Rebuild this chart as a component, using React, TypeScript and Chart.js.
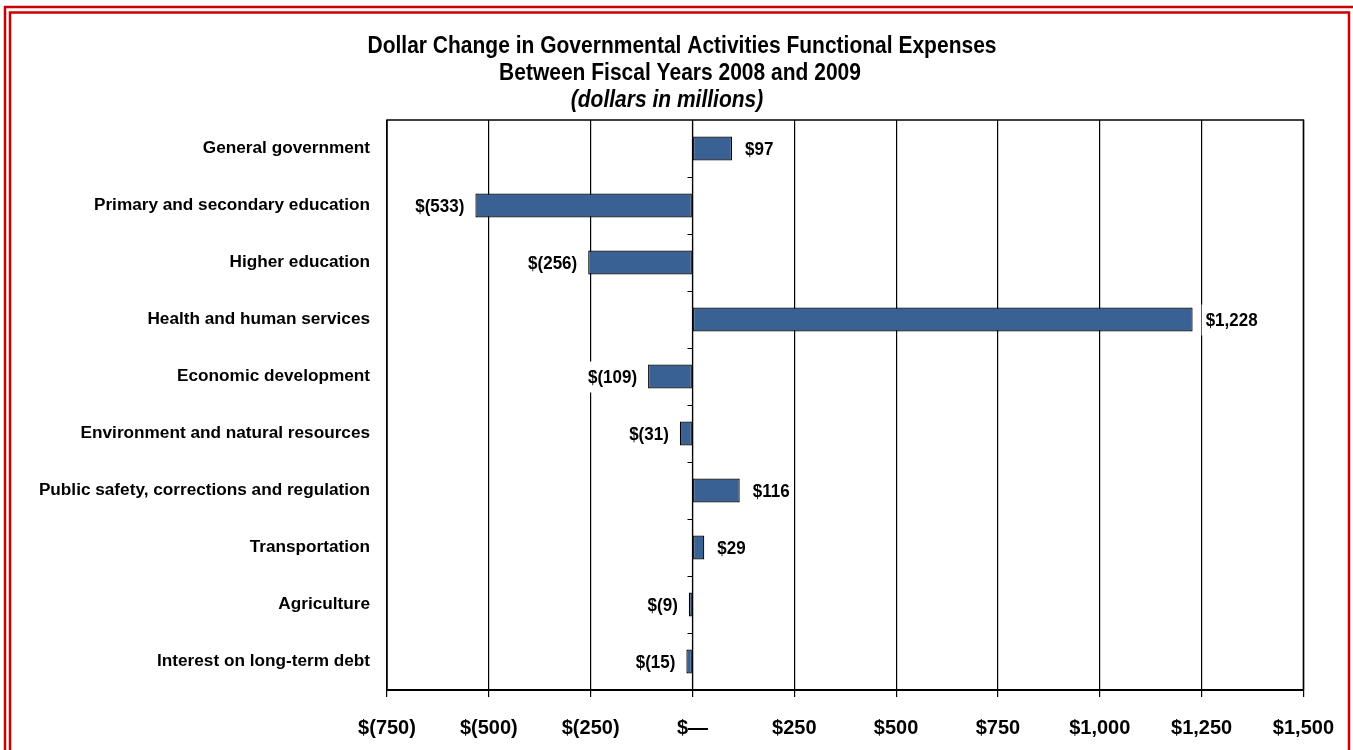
import React, { useEffect, useRef } from "react";
import { Chart, registerables } from "chart.js";

Chart.register(...registerables);

const categories = [
  "General government",
  "Primary and secondary education",
  "Higher education",
  "Health and human services",
  "Economic development",
  "Environment and natural resources",
  "Public safety, corrections and regulation",
  "Transportation",
  "Agriculture",
  "Interest on long-term debt",
];
const changeValues = [97, -533, -256, 1228, -109, -31, 116, 29, -9, -15];
const tickValues = [-750, -500, -250, 0, 250, 500, 750, 1000, 1250, 1500];
const tickLabels = ["$(750)", "$(500)", "$(250)", "$\u2014", "$250", "$500", "$750", "$1,000", "$1,250", "$1,500"];
const titleLines = [
  "Dollar Change in Governmental Activities Functional Expenses",
  "Between Fiscal Years 2008 and 2009",
  "(dollars in millions)",
];

const FONT = "'Liberation Sans', Arial, sans-serif";

function fmt(v: number): string {
  const s = Math.abs(v).toLocaleString("en-US");
  return v < 0 ? `$(${s})` : `$${s}`;
}

function stretchedText(ctx: any, text: string, cx: number, cy: number, sy: number) {
  ctx.save();
  ctx.translate(cx, cy);
  ctx.scale(1, sy);
  ctx.fillText(text, 0, 0);
  ctx.restore();
}

const decorPlugin = {
  id: "decor",
  beforeDraw(chart: any) {
    const ctx = chart.ctx;
    ctx.save();
    ctx.fillStyle = "#ffffff";
    ctx.fillRect(0, 0, chart.width, chart.height);
    ctx.strokeStyle = "#cc0000";
    ctx.lineWidth = 2.5;
    ctx.strokeRect(5, 7, chart.width + 20, chart.height + 20);
    ctx.strokeRect(10, 12.5, 1339, chart.height + 20);
    // title
    ctx.fillStyle = "#000";
    ctx.textAlign = "center";
    ctx.textBaseline = "middle";
    ctx.font = `bold 21px ${FONT}`;
    stretchedText(ctx, titleLines[0], 682, 47, 1.1);
    stretchedText(ctx, titleLines[1], 680, 74, 1.1);
    ctx.font = `italic bold 21px ${FONT}`;
    stretchedText(ctx, titleLines[2], 667, 101, 1.1);
    ctx.restore();
  },
  afterDatasetsDraw(chart: any) {
    const ctx = chart.ctx;
    const area = chart.chartArea;
    const xs = chart.scales.x;
    ctx.save();
    // plot border
    ctx.strokeStyle = "#000";
    ctx.lineWidth = 1.5;
    ctx.beginPath();
    ctx.moveTo(area.left, area.bottom);
    ctx.lineTo(area.left, area.top);
    ctx.lineTo(area.right, area.top);
    ctx.lineTo(area.right, area.bottom);
    ctx.stroke();
    // zero axis and category ticks
    const x0 = Math.round(xs.getPixelForValue(0)) + 0.5;
    ctx.lineWidth = 1.2;
    ctx.beginPath();
    ctx.moveTo(x0, area.top);
    ctx.lineTo(x0, area.bottom);
    const n = categories.length;
    const step = (area.bottom - area.top) / n;
    for (let i = 1; i < n; i++) {
      const y = Math.round(area.top + step * i) + 0.5;
      ctx.moveTo(x0 - 5, y);
      ctx.lineTo(x0, y);
    }
    ctx.stroke();
    // data labels
    ctx.font = `bold 17px ${FONT}`;
    ctx.textBaseline = "middle";
    const meta = chart.getDatasetMeta(0);
    meta.data.forEach((bar: any, i: number) => {
      const v = changeValues[i];
      const text = fmt(v);
      const w = ctx.measureText(text).width;
      let left: number;
      if (v >= 0) {
        left = bar.x + 13;
      } else {
        left = bar.x - 11 - w;
      }
      ctx.fillStyle = "#ffffff";
      ctx.fillRect(left - 4, bar.y - 15, w + 8, 31);
      ctx.fillStyle = "#000";
      ctx.textAlign = "left";
      ctx.save();
      ctx.translate(left, bar.y + 1);
      ctx.scale(1, 1.1);
      ctx.fillText(text, 0, 0);
      ctx.restore();
    });
    ctx.restore();
  },
};

export default function App() {
  const ref = useRef<HTMLCanvasElement | null>(null);
  useEffect(() => {
    const canvas = ref.current;
    if (!canvas) return;
    const chart = new Chart(canvas, {
      type: "bar",
      data: {
        labels: categories,
        datasets: [
          {
            data: changeValues,
            backgroundColor: "#3a6194",
            borderColor: "#000000",
            borderWidth: 1.2,
            borderSkipped: false,
            categoryPercentage: 1,
            barPercentage: 0.42,
          },
        ],
      },
      options: {
        indexAxis: "y",
        responsive: false,
        animation: false,
        layout: { padding: { top: 120, left: 0, right: 48, bottom: 0 } },
        plugins: {
          legend: { display: false },
          title: { display: false },
          tooltip: { enabled: false },
        },
        scales: {
          x: {
            type: "linear",
            min: -750,
            max: 1500,
            afterBuildTicks(scale: any) {
              scale.ticks = tickValues.map((v) => ({ value: v }));
            },
            afterFit(scale: any) {
              scale.height = 60;
            },
            ticks: {
              autoSkip: false,
              maxRotation: 0,
              padding: 19,
              color: "#000",
              font: { family: FONT, size: 20, weight: "bold" },
              callback: (_v: any, i: number) => tickLabels[i],
            },
            grid: {
              color: "#000",
              lineWidth: 1.2,
              tickLength: 7,
              drawTicks: true,
            },
            border: { display: true, color: "#000", width: 2 },
          },
          y: {
            afterFit(scale: any) {
              scale.width = 387;
            },
            ticks: {
              padding: 17,
              color: "#000",
              font: { family: FONT, size: 17.2, weight: "bold" },
            },
            grid: { display: false, drawTicks: false },
            border: { display: false },
          },
        },
      },
      plugins: [decorPlugin],
    } as any);
    return () => chart.destroy();
  }, []);
  return (
    <div style={{ position: "fixed", left: 0, top: 0, width: 1353, height: 750, overflow: "hidden", background: "#fff" }}>
      <canvas ref={ref} width={1353} height={750} style={{ display: "block" }} />
    </div>
  );
}
